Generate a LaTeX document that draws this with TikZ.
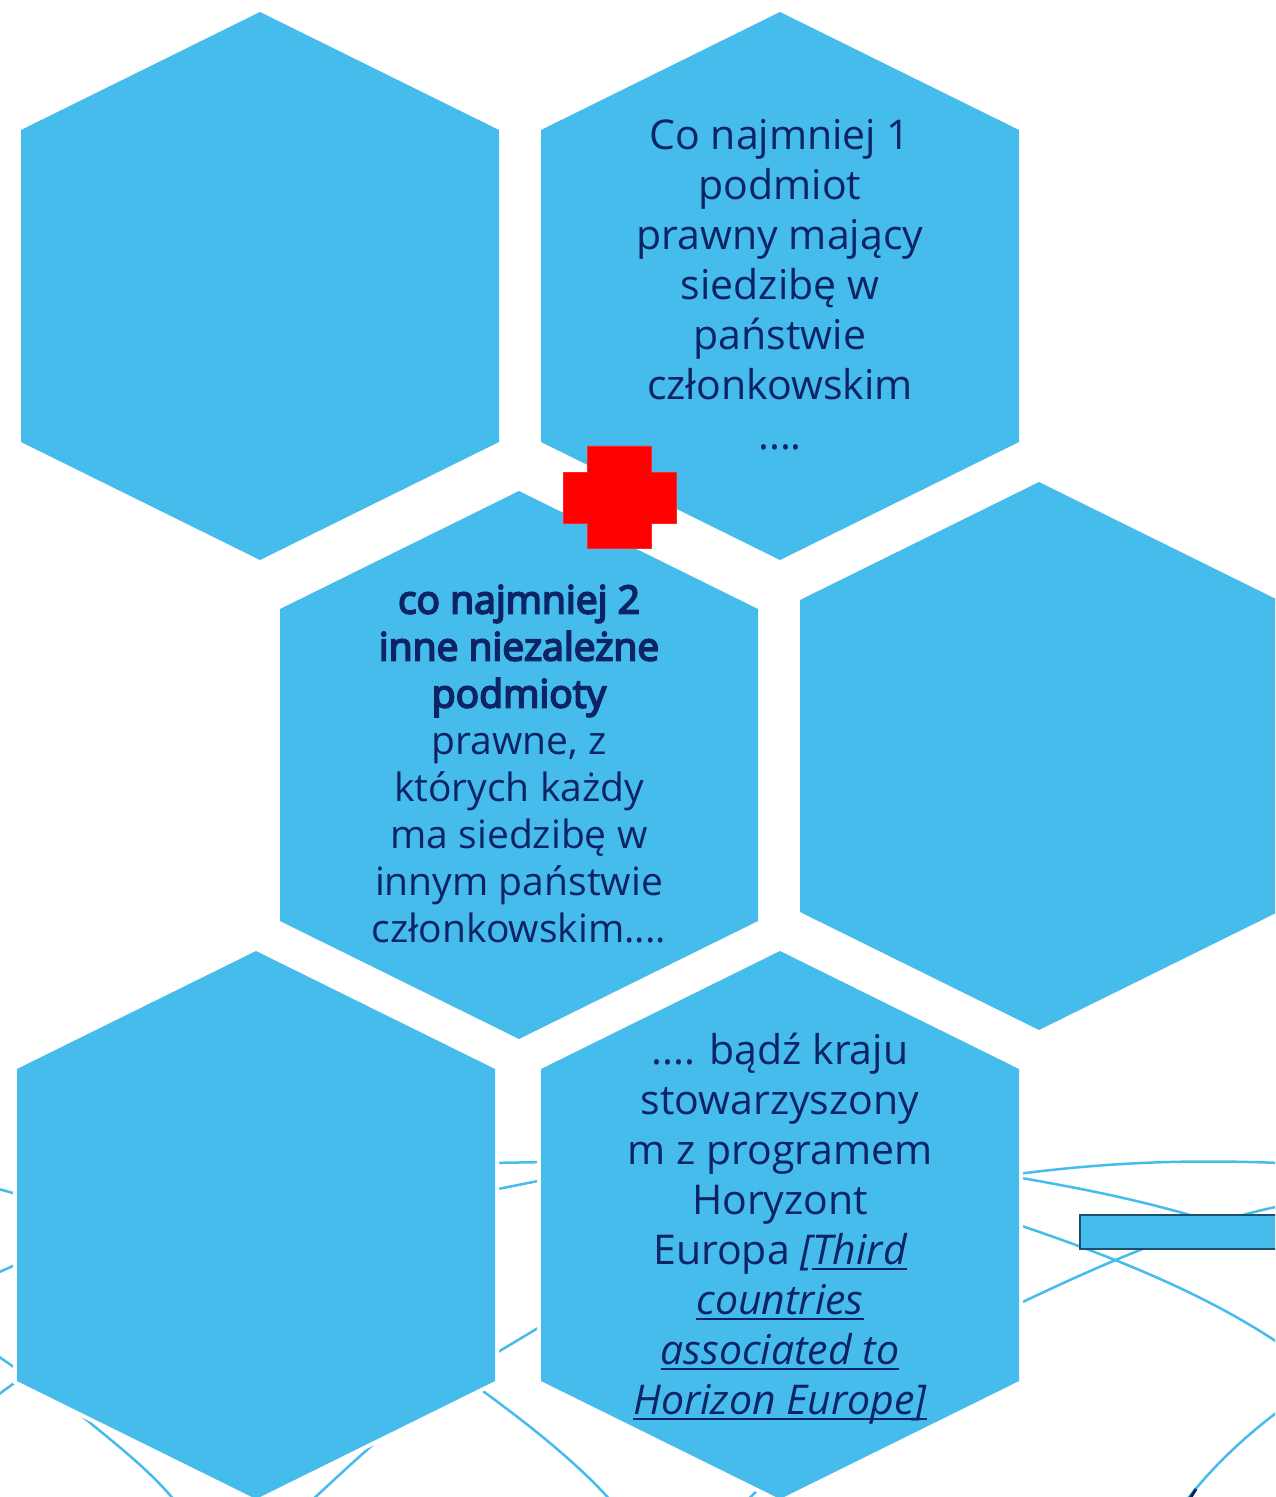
\documentclass[tikz,border=0pt]{standalone}
\usepackage{fontspec}
\setmainfont{Open Sans}[AutoFakeBold=4.5]
\definecolor{hexblue}{RGB}{70,188,237}
\definecolor{navy}{RGB}{12,36,100}
\definecolor{rectedge}{RGB}{30,78,110}
\newcommand\myul[1]{\setbox0\hbox{#1}\rlap{\rule[-2.4pt]{\wd0}{0.9pt}}\box0}
\newcommand\hexcell[2]{%
  \draw[white, line width=4pt, line join=miter, shift={(#1,#2)}] (0,-274) -- (239,-156) -- (239,156) -- (0,274) -- (-239,156) -- (-239,-156) -- cycle;
  \fill[hexblue, shift={(#1,#2)}] (0,-274) -- (239,-156) -- (239,156) -- (0,274) -- (-239,156) -- (-239,-156) -- cycle;}
\begin{document}
\begin{tikzpicture}[x=0.5pt,y=-0.5pt,
  bgline/.style={draw=hexblue, line width=1.25pt},
  hextext/.style={text=navy, align=center, inner sep=0pt, font=\fontsize{20.5}{25}\selectfont},
  hextextb/.style={text=navy, align=center, inner sep=0pt, font=\fontsize{19.5}{23.5}\selectfont}]
\useasboundingbox (0,0) rectangle (1275,1497);
\clip (0,0) rectangle (1275,1497);
\fill[white] (0,0) rectangle (1275,1497);
% background globe lines
\draw[bgline] (-5,1188) -- (24,1196);
\draw[bgline] (-5,1274) -- (24,1261);
\draw[bgline] (-5,1354) -- (24,1374);
\draw[bgline] (-5,1397) -- (24,1376);
\draw[bgline] (488,1163) -- (548,1162);
\draw[bgline] (488,1191) -- (548,1179);
\draw[bgline] (488,1358) -- (548,1322);
\draw[bgline] (476,1386) .. controls (520,1418) and (575,1460) .. (612,1502);
\draw[bgline] (70,1406) .. controls (110,1440) and (145,1465) .. (176,1502);
\draw[bgline] (378,1440) .. controls (350,1465) .. (310,1502);
\draw[bgline] (745,1503) -- (764,1483);
\draw[bgline] (1010,1175) .. controls (1100,1163) and (1180,1159) .. (1280,1163);
\draw[bgline] (1010,1176) .. controls (1080,1188) and (1140,1200) .. (1200,1218);
\draw[bgline] (1010,1308) .. controls (1100,1265) and (1190,1225) .. (1280,1206);
\draw[bgline] (1010,1222) .. controls (1100,1252) and (1200,1290) .. (1280,1344);
\draw[bgline] (1280,1410) .. controls (1240,1440) and (1210,1470) .. (1185,1502);
\draw[navy, line width=1.5pt] (1189,1500) -- (1196,1489);
% hexagons
\coordinate (h1) at (260,286);
\coordinate (h2) at (780,286);
\coordinate (h3) at (519,765);
\coordinate (h4) at (1039,756);
\coordinate (h5) at (256,1225);
\coordinate (h6) at (780,1225);
\hexcell{260}{286}
\hexcell{780}{286}
\hexcell{519}{765}
\hexcell{1039}{756}
\hexcell{256}{1225}
\hexcell{780}{1225}
% rectangle at right
\draw[draw=rectedge, line width=1.35pt, fill=hexblue] (1080,1215) rectangle (1295,1249);
% red cross
\fill[red, draw=red!85!white, line width=0.3pt] (587,446) -- (651,446) -- (651,472) -- (676,472) -- (676,523) -- (651,523) -- (651,548) -- (587,548) -- (587,523) -- (563,523) -- (563,472) -- (587,472) -- cycle;
% texts
\node[hextext] (t2) at (780,285) {Co najmniej 1\\podmiot\\prawny mający\\siedzibę w\\państwie\\członkowskim\\....};
\node[hextextb] (t3) at (519,764) {\textbf{co najmniej 2}\\\textbf{inne niezależne}\\\textbf{podmioty}\\prawne, z\\których każdy\\ma siedzibę w\\innym państwie\\członkowskim....};
\node[hextext] (t6) at (780,1229) {.... bądź kraju\\stowarzyszony\\m z programem\\Horyzont\\Europa \textit{[\myul{Third}}\\\textit{\myul{countries}}\\\textit{\myul{associated to}}\\\textit{\myul{Horizon Europe]}}};
\end{tikzpicture}
\end{document}
